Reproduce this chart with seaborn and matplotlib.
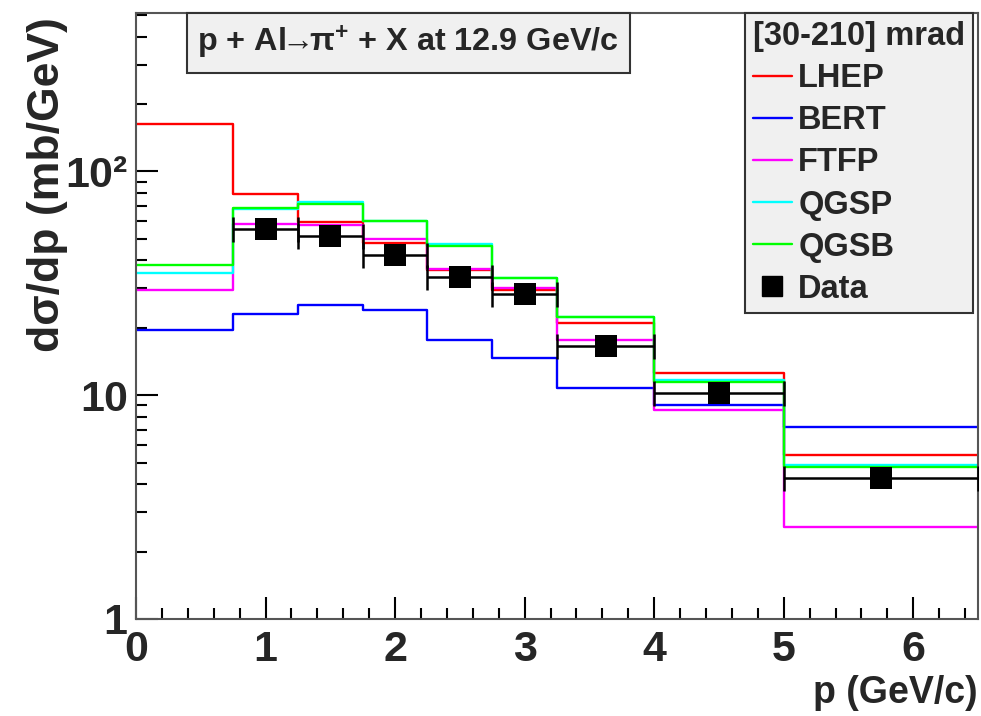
import matplotlib
matplotlib.use("Agg")
import matplotlib.pyplot as plt
import numpy as np
import seaborn as sns
from matplotlib.lines import Line2D
from matplotlib.ticker import MultipleLocator, NullFormatter, LogLocator

# ----------------------------------------------------------
# Data
# ----------------------------------------------------------
bin_edges = [0.0, 0.75, 1.25, 1.75, 2.25, 2.75, 3.25, 4.0, 5.0, 6.5]

lhep = [162, 79.5, 59.6, 47.9, 36.1, 29.4, 21.0, 12.6, 5.4]
bert = [19.5, 23.0, 25.4, 24.0, 17.6, 14.7, 10.8, 9.0, 7.2]
ftfp = [29.4, 58.4, 57.3, 49.7, 36.8, 30.0, 17.6, 8.6, 2.58]
qgsp = [35.3, 67.6, 72.9, 60.0, 47.6, 33.4, 22.3, 11.7, 4.9]
qgsb = [38.0, 68.9, 71.2, 59.8, 46.3, 33.4, 22.3, 11.4, 4.79]

data_p    = [1.0, 1.5, 2.0, 2.5, 3.0, 3.625, 4.5, 5.75]
data_xerr = [0.25, 0.25, 0.25, 0.25, 0.25, 0.375, 0.5, 0.75]
data_val  = [55.0, 51.5, 42.2, 33.9, 28.3, 16.6, 10.2, 4.25]

model_names  = ["LHEP", "BERT", "FTFP", "QGSP", "QGSB"]
model_values = [lhep, bert, ftfp, qgsp, qgsb]
model_colors = ["#ff0000", "#0000ff", "#ff00ff", "#00ffff", "#00ff00"]

# ----------------------------------------------------------
# Style
# ----------------------------------------------------------
sns.set_style("ticks")
plt.rcParams["font.family"] = ["Liberation Sans", "DejaVu Sans"]
plt.rcParams["font.weight"] = "bold"
plt.rcParams["mathtext.default"] = "regular"

# ----------------------------------------------------------
# Plot
# ----------------------------------------------------------
fig = plt.figure(figsize=(9.81, 7.16), dpi=100)
ax = fig.add_axes([136 / 981, 97 / 716, 842 / 981, 606 / 716])

centers = [(a + b) / 2 for a, b in zip(bin_edges[:-1], bin_edges[1:])]
for name, vals, col in zip(model_names, model_values, model_colors):
    sns.histplot(x=centers, weights=vals, bins=bin_edges, element="step",
                 fill=False, color=col, linewidth=1.7, ax=ax)

ax.errorbar(data_p, data_val, xerr=data_xerr, fmt="none", ecolor="black",
            elinewidth=1.8, capsize=9, capthick=1.8, zorder=5)
sns.scatterplot(x=data_p, y=data_val, marker="s", s=250, color="black",
                edgecolor="black", linewidth=0, ax=ax, zorder=6)

ax.set_yscale("log")
ax.set_xlim(0, 6.5)
ax.set_ylim(1, 510)

# axes frame and ticks (ROOT style)
for sp in ax.spines.values():
    sp.set_visible(True)
    sp.set_color("#555555")
    sp.set_linewidth(1.5)
ax.xaxis.set_major_locator(MultipleLocator(1))
ax.xaxis.set_minor_locator(MultipleLocator(0.2))
ax.set_yticks([1, 10, 100], labels=["1", "10", "10²"])
ax.yaxis.set_minor_locator(LogLocator(base=10, subs=np.arange(2, 10)))
ax.yaxis.set_minor_formatter(NullFormatter())
ax.tick_params(which="both", direction="in", top=False, right=False,
               color="black", width=1.5)
ax.tick_params(which="major", length=16, labelsize=31)
ax.tick_params(axis="x", which="major", pad=8)
ax.tick_params(axis="y", which="major", pad=6)
ax.tick_params(which="minor", length=8)
ax.set_xlabel("")
ax.set_ylabel("")

ax.text(1.0, -0.122, "p (GeV/c)", transform=ax.transAxes, ha="right",
        va="center", fontsize=27, fontweight="bold")
ax.text(-0.105, 0.993, "dσ/dp (mb/GeV)", transform=ax.transAxes,
        rotation=90, ha="center", va="top", fontsize=32, fontweight="bold")

# title box
ax.text(0.073, 0.951, r"p + Al$\!\!\rightarrow\!\!\pi^{+}$ + X at 12.9 GeV/c",
        transform=ax.transAxes, ha="left", va="center", fontsize=23.3,
        fontweight="bold",
        bbox=dict(boxstyle="square,pad=0.33", fc="#f0f0f0", ec="#333333",
                  lw=1.5))

# legend
handles = [Line2D([], [], color=c, lw=1.7) for c in model_colors]
handles.append(Line2D([], [], marker="s", color="black", ls="none",
                      markersize=14))
leg = ax.legend(handles, model_names + ["Data"], title="[30-210] mrad",
                loc="upper right", bbox_to_anchor=(0.994, 1.0),
                borderaxespad=0, fontsize=23.5, title_fontsize=23.5,
                handlelength=1.2, handletextpad=0.2, labelspacing=0.34,
                borderpad=0.25, fancybox=False, framealpha=1,
                facecolor="#f0f0f0", edgecolor="#333333", alignment="left")
leg.get_frame().set_linewidth(1.5)
leg.get_title().set_fontweight("bold")

fig.savefig("out.png", dpi=100)
